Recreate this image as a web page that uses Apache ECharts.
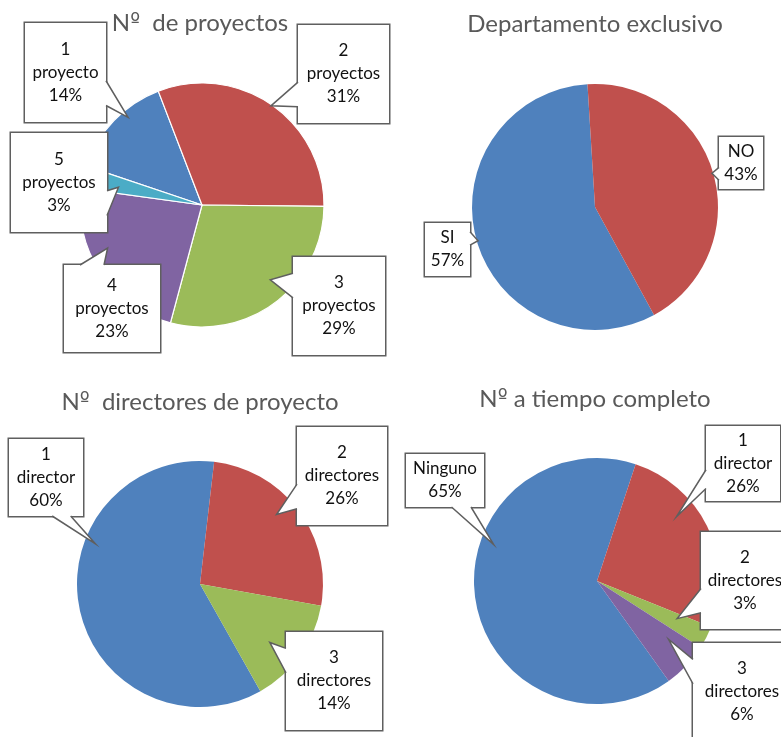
<!DOCTYPE html>
<html>
<head>
<meta charset="utf-8">
<script src="https://cdn.jsdelivr.net/npm/echarts@6/dist/echarts.min.js"></script>
<style>
  html, body { margin: 0; padding: 0; background: #fff; }
  #chart { width: 781px; height: 737px; }
</style>
</head>
<body>
<div id="chart"></div>
<script>
// ---- Survey results: four pie charts (percent of respondents) ----
const chartTitles = ['Nº  de proyectos', 'Departamento exclusivo', 'Nº  directores de proyecto', 'Nº a tiempo completo'];

const proyectosCats = ['1 proyecto', '2 proyectos', '3 proyectos', '4 proyectos', '5 proyectos'];
const proyectosPct = [14, 31, 29, 23, 3];

const departamentoCats = ['SI', 'NO'];
const departamentoPct = [57, 43];

const directoresCats = ['1 director', '2 directores', '3 directores'];
const directoresPct = [60, 26, 14];

const tiempoCats = ['Ninguno', '1 director', '2 directores', '3 directores'];
const tiempoPct = [65, 26, 3, 6];

// Office palette
const palette = ['#4F81BD', '#C0504D', '#9BBB59', '#8064A2', '#4BACC6'];

const FONT = 'Lato, "Open Sans", sans-serif';
const TITLE_COLOR = '#595959';
const LABEL_SIZE = 17;
const LINE_H = 23;
const BOX_BORDER = '#5f5f5f';

// Pie placement and callout boxes ([left, top, width, height]);
// tip = [fraction along the slice angle, fraction of the radius]
const pies = [
  {
    cats: proyectosCats, values: proyectosPct,
    center: [202, 205], radius: 122, startAngle: 161.4, sliceBorder: 1.2,
    title: { x: 200, y: 23 },
    boxes: [[25, 23, 81, 99], [298, 25, 91, 98], [293, 257, 92, 98], [64, 265, 96, 87], [11, 133, 96, 99]],
    tips: [[0.62, 0.94], [0.5, 0.99], [0.45, 0.83], [0.61, 0.85], [0.39, 0.7]]
  },
  {
    cats: departamentoCats, values: departamentoPct,
    center: [595, 207], radius: 123, startAngle: -61.3, sliceBorder: 0,
    title: { x: 595, y: 24 },
    boxes: [[425, 223, 45, 53], [719, 137, 44, 52]],
    tips: [[0.5, 0.99], [0.5, 0.99]]
  },
  {
    cats: directoresCats, values: directoresPct,
    center: [200, 584], radius: 123, startAngle: -60.6, sliceBorder: 0,
    title: { x: 200, y: 402 },
    boxes: [[9, 439, 74, 77], [297, 427, 90, 98], [286, 632, 96, 98]],
    tips: [[0.65, 0.91], [0.44, 0.84], [0.59, 0.74]]
  },
  {
    cats: tiempoCats, values: tiempoPct,
    center: [597, 581], radius: 123, startAngle: -54.3, sliceBorder: 0,
    title: { x: 595, y: 399 },
    boxes: [[406, 454, 78, 53], [706, 426, 74, 75], [701, 532, 88, 97], [693, 643, 98, 98]],
    tips: [[0.62, 0.89], [0.35, 0.83], [0.3, 0.72], [0.3, 0.75]]
  }
];

function labelText(params) {
  return params.name.replace(' ', '\n') + '\n' + Math.round(params.percent) + '%';
}

// The ordinal sign is set in a face whose º carries the underline bar
function titleRich(text) {
  return text.replace('º', '{o|º}');
}

const chart = echarts.init(document.getElementById('chart'), null, { renderer: 'canvas' });

const titleOpts = pies.map((p, i) => ({
  text: titleRich(chartTitles[i]),
  left: p.title.x,
  top: p.title.y - 15,
  textAlign: 'center',
  padding: 0,
  textStyle: {
    fontFamily: FONT, fontSize: 24, fontWeight: 'normal', color: TITLE_COLOR, lineHeight: 30,
    rich: { o: { fontFamily: '"DejaVu Sans", sans-serif', fontSize: 21, color: TITLE_COLOR, lineHeight: 30 } }
  }
}));

const seriesOpts = pies.map((p) => ({
  type: 'pie',
  center: p.center,
  radius: p.radius,
  startAngle: p.startAngle,
  clockwise: true,
  silent: true,
  avoidLabelOverlap: false,
  emphasis: { disabled: true },
  itemStyle: { borderColor: '#fff', borderWidth: p.sliceBorder },
  label: {
    show: true,
    position: 'outside',
    formatter: labelText,
    fontFamily: FONT,
    fontSize: LABEL_SIZE,
    lineHeight: LINE_H,
    color: '#111',
    align: 'center',
    backgroundColor: '#fff',
    borderColor: BOX_BORDER,
    borderWidth: 1.5
  },
  labelLine: { show: false },
  labelLayout: (params) => {
    const b = p.boxes[params.dataIndex];
    return { x: b[0] + b[2] / 2, y: b[1], align: 'center', verticalAlign: 'top' };
  },
  data: p.cats.map((name, i) => {
    const b = p.boxes[i];
    const lines = name.indexOf(' ') >= 0 ? 3 : 2;
    const pv = (b[3] - lines * LINE_H) / 2;
    return {
      name: name,
      value: p.values[i],
      itemStyle: { color: palette[i] },
      label: { width: b[2], padding: [pv, 0, pv, 0] }
    };
  })
}));

chart.setOption({
  animation: false,
  backgroundColor: '#fff',
  title: titleOpts,
  series: seriesOpts
});

// Callout pointers: a wedge from the box side toward the slice
function calloutPointers() {
  const model = chart.getModel();
  const els = [];
  pies.forEach((p, si) => {
    const data = model.getSeriesByIndex(si).getData();
    p.boxes.forEach((b, i) => {
      const lay = data.getItemLayout(i);
      const t = p.tips[i];
      const ang = lay.startAngle + t[0] * (lay.endAngle - lay.startAngle);
      const T = [lay.cx + t[1] * lay.r * Math.cos(ang), lay.cy + t[1] * lay.r * Math.sin(ang)];
      const x = b[0], y = b[1], w = b[2], h = b[3];
      const dx = T[0] - (x + w / 2), dy = T[1] - (y + h / 2);
      const dq = dx * h / w;
      let A, B, inn;
      if (Math.abs(dy) > Math.abs(dq)) {
        const ey = dy > 0 ? y + h : y;
        const f1 = dx > 0 ? 7 / 12 : 2 / 12, f2 = dx > 0 ? 10 / 12 : 5 / 12;
        A = [x + w * f1, ey]; B = [x + w * f2, ey]; inn = [0, dy > 0 ? -2.5 : 2.5];
      } else {
        const ex = dx > 0 ? x + w : x;
        const f1 = dy > 0 ? 7 / 12 : 2 / 12, f2 = dy > 0 ? 10 / 12 : 5 / 12;
        A = [ex, y + h * f1]; B = [ex, y + h * f2]; inn = [dx > 0 ? -2.5 : 2.5, 0];
      }
      els.push({
        type: 'polygon', z: 100, silent: true,
        shape: { points: [[A[0] + inn[0], A[1] + inn[1]], A, T, B, [B[0] + inn[0], B[1] + inn[1]]] },
        style: { fill: '#fff', stroke: null }
      });
      els.push({
        type: 'polyline', z: 101, silent: true,
        shape: { points: [A, T, B] },
        style: { stroke: BOX_BORDER, lineWidth: 1.5, fill: null }
      });
    });
  });
  chart.setOption({ graphic: { elements: els } });
}
calloutPointers();
</script>
</body>
</html>
